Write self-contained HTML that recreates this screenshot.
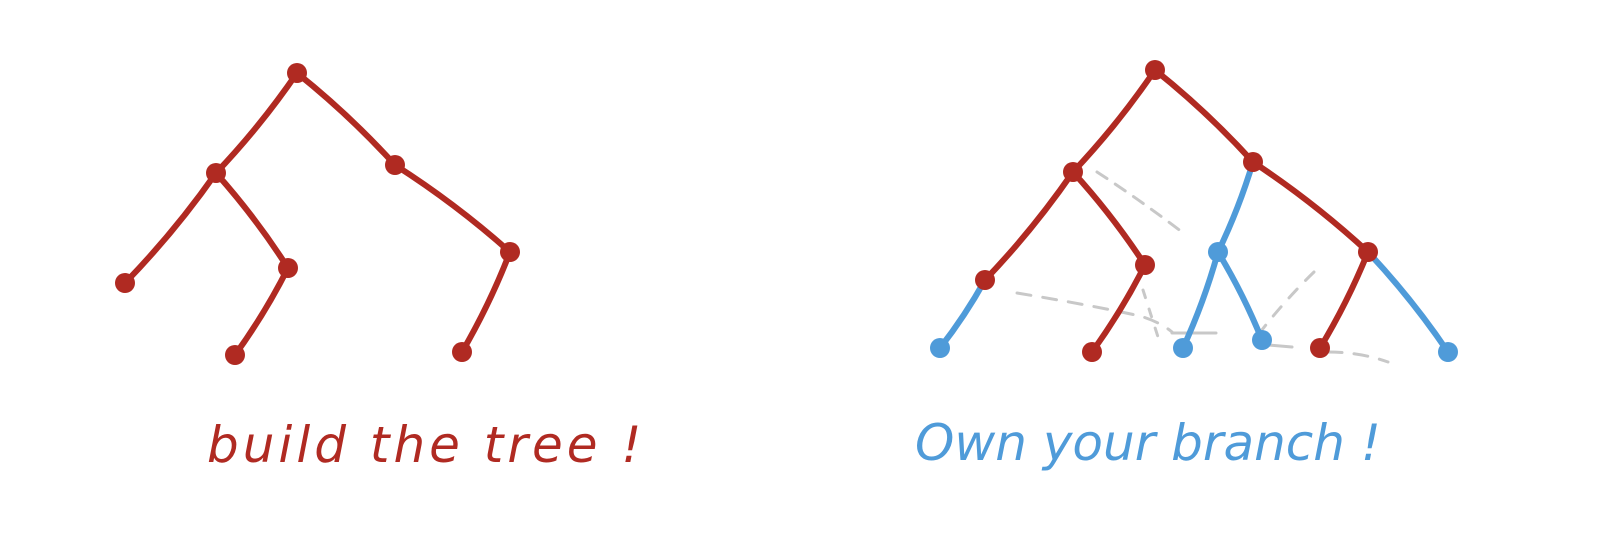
<!DOCTYPE html>
<html><head><meta charset="utf-8"><style>
html,body{margin:0;padding:0;background:#fff;width:1600px;height:559px;overflow:hidden}
svg{display:block}
text{font-family:"DejaVu Sans","Liberation Sans",sans-serif;font-style:italic}
</style></head><body>
<svg id="s" width="1600" height="559" viewBox="0 0 1600 559">
<g id="gray" stroke="#c8c8c8" stroke-width="3" fill="none" stroke-linecap="round">
<path d="M1097 172 Q1140 200 1182 232" stroke-dasharray="12 10"/>
<path d="M1017 293 Q1090 305 1140 316 Q1160 322 1172 332" stroke-dasharray="14 12"/>
<path d="M1143 290 L1158 337" stroke-dasharray="8 12"/>
<path d="M1172 333 L1216 333"/>
<path d="M1314 272 Q1285 300 1258 335" stroke-dasharray="12 12"/>
<path d="M1268 345 L1292 347"/>
<path d="M1328 352 Q1360 352 1388 362" stroke-dasharray="14 12"/>
</g>
<g id="edges" fill="none" stroke-linecap="round" stroke-width="6"></g>
<g id="nodes"></g>
<text x="207" y="462" font-size="50" letter-spacing="4" fill="#b02a22">build  the  tree !</text>
<text x="915" y="460" font-size="50" fill="#4f9bd9">Own  your  branch !</text>
</svg>
<script>
const RED="#b02a22", BLUE="#4f9bd9";
const nodeX=[297,216,395,510,125,288,235,462, 1155,1073,1253,1368,985,1145,940,1092,1218,1183,1262,1320,1448];
const nodeY=[73,173,165,252,283,268,355,352, 70,172,162,252,280,265,348,352,252,348,340,348,352];
const nodeC=["r","r","r","r","r","r","r","r", "r","r","r","r","r","r","b","r","b","b","b","r","b"];
const edgeFrom=[0,0,2,1,1,5,3, 8,8,10,9,9,13,12,10,16,16,11,11];
const edgeTo  =[1,2,3,4,5,6,7, 9,10,11,12,13,15,14,16,17,18,19,20];
const edgeC   =["r","r","r","r","r","r","r", "r","r","r","r","r","r","b","b","b","b","r","b"];
const ns="http://www.w3.org/2000/svg";
const eg=document.getElementById("edges"), ng=document.getElementById("nodes");
for(let i=0;i<edgeFrom.length;i++){
  const a=edgeFrom[i],b=edgeTo[i];
  const p=document.createElementNS(ns,"path");
  const mx=(nodeX[a]+nodeX[b])/2+(nodeY[b]-nodeY[a])*0.04, my=(nodeY[a]+nodeY[b])/2-(nodeX[b]-nodeX[a])*0.04;
  p.setAttribute("d",`M${nodeX[a]} ${nodeY[a]} Q${mx} ${my} ${nodeX[b]} ${nodeY[b]}`);
  p.setAttribute("stroke",edgeC[i]==="r"?RED:BLUE);
  
  
  eg.appendChild(p);
}
for(let i=0;i<nodeX.length;i++){
  const c=document.createElementNS(ns,"circle");
  c.setAttribute("cx",nodeX[i]);c.setAttribute("cy",nodeY[i]);c.setAttribute("r",10);
  c.setAttribute("fill",nodeC[i]==="r"?RED:BLUE);
  
  
  ng.appendChild(c);
}
</script>
</body></html>
